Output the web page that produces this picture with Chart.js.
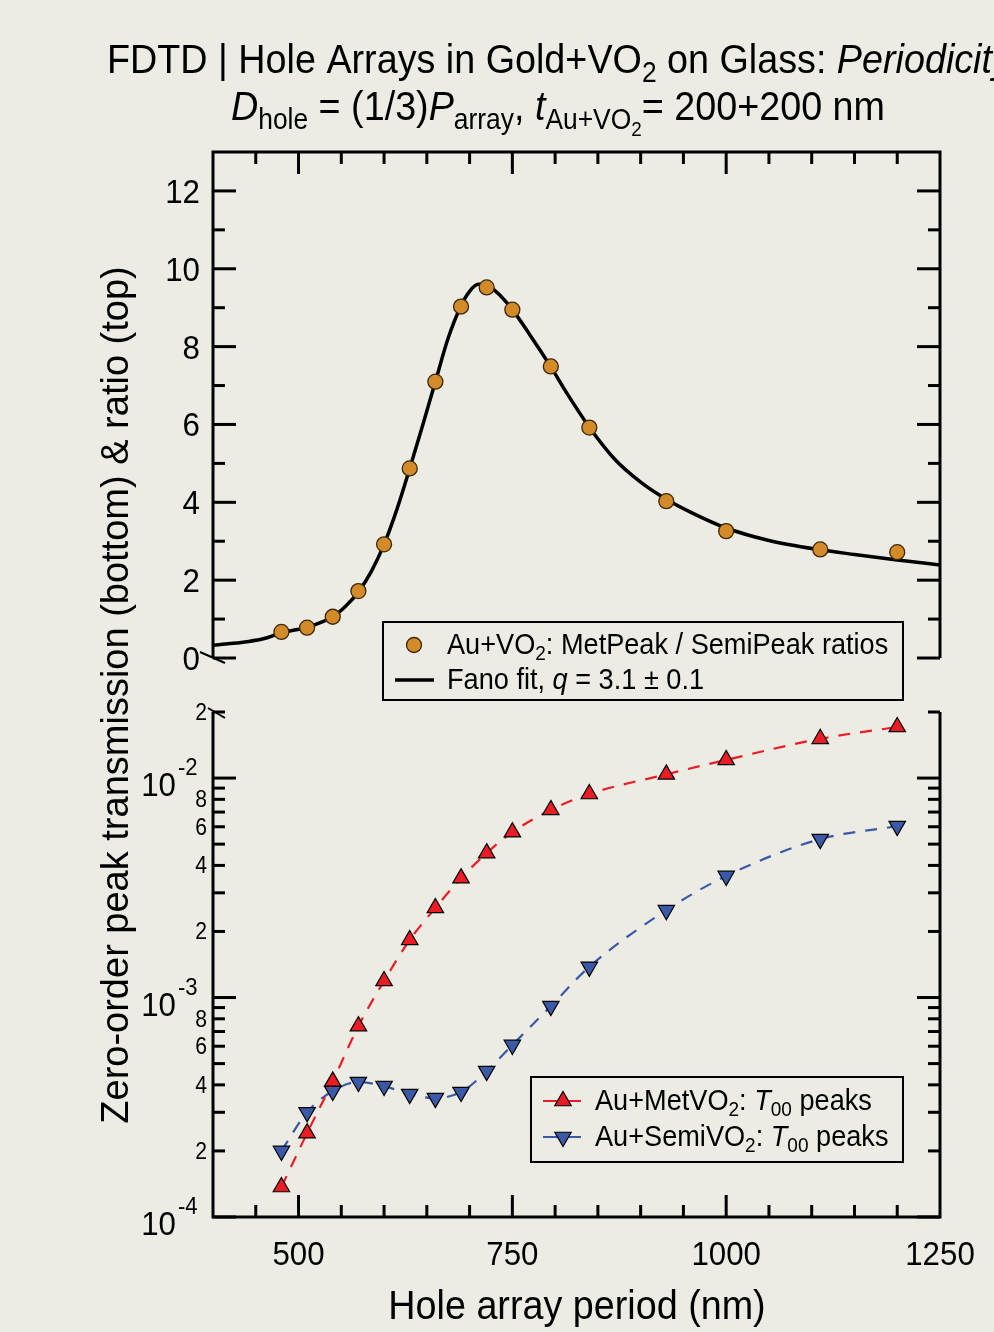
<!DOCTYPE html>
<html>
<head>
<meta charset="utf-8">
<title>FDTD hole arrays: periodicity</title>
<script src="https://cdn.jsdelivr.net/npm/chart.js@4.4.1/dist/chart.umd.min.js"></script>
<style>
  html, body { margin: 0; padding: 0; background: #ECECE4; }
  #wrap { width: 994px; height: 1332px; }
</style>
</head>
<body>
<div id="wrap"><canvas id="myChart" width="994" height="1332"></canvas></div>
<script>
// hole array periods (nm)
var periods = [480, 510, 540, 570, 600, 630, 660, 690, 720, 750, 795, 840, 930, 1000, 1110, 1200];
// top panel: MetPeak / SemiPeak ratios
var ratios = [0.67, 0.78, 1.06, 1.72, 2.92, 4.87, 7.10, 9.03, 9.52, 8.95, 7.49, 5.92, 4.03, 3.26, 2.79, 2.72];
// Fano fit curve
var fitPeriods = [400, 420, 440, 460, 480, 510, 540, 555, 570, 585, 600, 615, 630, 645, 660, 675, 690, 700, 710, 718, 725, 735, 750, 770, 795, 815, 840, 870, 900, 930, 960, 1000, 1050, 1110, 1150, 1200, 1250];
var fitRatios = [0.33, 0.37, 0.42, 0.50, 0.65, 0.79, 1.06, 1.33, 1.70, 2.22, 2.92, 3.82, 4.87, 5.97, 7.10, 8.22, 9.05, 9.42, 9.60, 9.60, 9.52, 9.33, 8.95, 8.32, 7.48, 6.76, 5.93, 5.10, 4.52, 4.08, 3.73, 3.34, 3.02, 2.78, 2.66, 2.52, 2.39];
// bottom panel: zero-order peak transmission
var metPeaks = [1.37e-4, 2.41e-4, 4.15e-4, 7.41e-4, 1.19e-3, 1.83e-3, 2.56e-3, 3.50e-3, 4.55e-3, 5.67e-3, 7.16e-3, 8.46e-3, 1.04e-2, 1.21e-2, 1.51e-2, 1.71e-2];
var semiPeaks = [2.0e-4, 3.0e-4, 3.75e-4, 4.12e-4, 3.95e-4, 3.63e-4, 3.48e-4, 3.71e-4, 4.62e-4, 6.08e-4, 9.14e-4, 1.38e-3, 2.50e-3, 3.58e-3, 5.27e-3, 6.04e-3];
// tick labels
var periodTicks = [500, 750, 1000, 1250];
var ratioTicks = [0, 2, 4, 6, 8, 10, 12];
var decadeTicks = [1e-4, 1e-3, 1e-2];
var minorLabels = [2, 4, 6, 8];

var BG = '#ECECE4';
var ORANGE = '#D38B2A';
var RED = '#EC1C24';
var BLUE = '#3A5AA8';
var FONT = '"Liberation Sans", Arial, sans-serif';
var SX = 0.92; // text in the figure is slightly condensed

function pts(xs, ys) {
    return xs.map(function (x, i) { return { x: x, y: ys[i] }; });
}

function seg(ctx, x1, y1, x2, y2) {
    ctx.beginPath();
    ctx.moveTo(x1, y1);
    ctx.lineTo(x2, y2);
    ctx.stroke();
}

// parts: {t, i (italic), s: 1 sub, 2 sub-sub, -1 sup}
function partFont(p, size) {
    var f = p.s === 1 ? 0.7 : p.s === 2 ? 0.5 : p.s === -1 ? 0.68 : 1;
    return (p.i ? 'italic ' : '') + Math.round(size * f * 10) / 10 + 'px ' + FONT;
}
function partDy(p, size) {
    return p.s === 1 ? 0.22 * size : p.s === 2 ? 0.38 * size : p.s === -1 ? -0.42 * size : 0;
}
function rich(ctx, parts, x, y, size, align, sx) {
    sx = sx || SX;
    var total = 0;
    parts.forEach(function (p) { ctx.font = partFont(p, size); total += ctx.measureText(p.t).width; });
    ctx.save();
    ctx.translate(x, y);
    ctx.scale(sx, 1);
    ctx.textAlign = 'left';
    ctx.textBaseline = 'alphabetic';
    ctx.fillStyle = '#000';
    var cx = align === 'center' ? -total / 2 : align === 'right' ? -total : 0;
    parts.forEach(function (p) {
        ctx.font = partFont(p, size);
        ctx.fillText(p.t, cx, partDy(p, size));
        cx += ctx.measureText(p.t).width;
    });
    ctx.restore();
}

function tri(ctx, x, y, r, down, fill) {
    var a = down ? Math.PI : 0;
    ctx.beginPath();
    for (var k = 0; k < 3; k++) {
        var px = x + Math.sin(a) * r, py = y - Math.cos(a) * r;
        if (k === 0) ctx.moveTo(px, py); else ctx.lineTo(px, py);
        a += 2 * Math.PI / 3;
    }
    ctx.closePath();
    ctx.fillStyle = fill;
    ctx.fill();
    ctx.lineWidth = 1.2;
    ctx.strokeStyle = '#000';
    ctx.stroke();
}

var frame = {
    id: 'frame',
    beforeDraw: function (chart) {
        var c = chart.ctx;
        c.save();
        c.fillStyle = BG;
        c.fillRect(0, 0, chart.width, chart.height);
        c.restore();
    },
    beforeDatasetsDraw: function (chart) {
        var c = chart.ctx;
        var xs = chart.scales.x, yt = chart.scales.yTop, yb = chart.scales.yBot;
        var L = chart.chartArea.left, R = chart.chartArea.right;
        var tT = yt.getPixelForValue(13), tB = yt.getPixelForValue(0);
        var bT = yb.getPixelForValue(2e-2), bB = yb.getPixelForValue(1e-4);
        c.save();
        c.strokeStyle = '#000';
        c.lineWidth = 3;
        c.lineJoin = 'miter';

        // panel frames (open at the break)
        c.beginPath();
        c.moveTo(L, tB); c.lineTo(L, tT); c.lineTo(R, tT); c.lineTo(R, tB);
        c.stroke();
        c.beginPath();
        c.moveTo(L, bT); c.lineTo(L, bB); c.lineTo(R, bB); c.lineTo(R, bT);
        c.stroke();

        // x ticks, inward
        for (var v = 450; v < 1250; v += 50) {
            var px = xs.getPixelForValue(v);
            var len = v % 250 === 0 ? 22 : 12;
            seg(c, px, tT, px, tT + len);
            seg(c, px, bB, px, bB - len);
        }
        // top y ticks
        for (var k = 0; k <= 12; k++) {
            var py = yt.getPixelForValue(k);
            var l2 = k % 2 === 0 ? 23 : 12;
            seg(c, L, py, L + l2, py);
            seg(c, R, py, R - l2, py);
        }
        // bottom log ticks
        decadeTicks.forEach(function (d) {
            for (var m = 1; m <= 9; m++) {
                var val = m * d;
                if (val > 2.0001e-2) break;
                var y = yb.getPixelForValue(val);
                var l3 = m === 1 ? 23 : 12;
                seg(c, L, y, L + l3, y);
                seg(c, R, y, R - l3, y);
            }
        });

        // break marks
        c.lineWidth = 2;
        seg(c, L - 13, tB - 6, L + 12, tB + 5);
        seg(c, L - 5, bT - 4, L + 12, bT + 6);

        // tick labels
        ratioTicks.forEach(function (t) {
            rich(c, [{ t: String(t) }], 200, yt.getPixelForValue(t) + 12, 34, 'right');
        });
        periodTicks.forEach(function (t) {
            rich(c, [{ t: String(t) }], xs.getPixelForValue(t), 1265, 34, 'center');
        });
        decadeTicks.forEach(function (d) {
            var y = yb.getPixelForValue(d);
            var e = Math.round(Math.log10(d));
            rich(c, [{ t: '10' }], 176, y + 18, 34, 'right');
            rich(c, [{ t: String(e) }], 178, y - 3, 24, 'left');
            if (d < 1e-2) {
                minorLabels.forEach(function (m) {
                    rich(c, [{ t: String(m) }], 207, yb.getPixelForValue(m * d) + 8, 23, 'right');
                });
            }
        });
        rich(c, [{ t: '2' }], 207, bT + 8, 23, 'right');

        // axis titles
        rich(c, [{ t: 'Hole array period (nm)' }], 577, 1319, 41, 'center');
        c.save();
        c.translate(128, 695);
        c.rotate(-Math.PI / 2);
        c.font = '38px ' + FONT;
        c.fillStyle = '#000';
        c.textAlign = 'center';
        c.textBaseline = 'alphabetic';
        c.fillText('Zero-order peak transmission (bottom) & ratio (top)', 0, 0);
        c.restore();

        // chart title
        rich(c, [
            { t: 'FDTD | Hole Arrays in Gold+VO' }, { t: '2', s: 1 },
            { t: ' on Glass: ' }, { t: 'Periodicity', i: true }
        ], 107, 73, 41, 'left');
        rich(c, [
            { t: 'D', i: true }, { t: 'hole', s: 1 }, { t: ' = (1/3)' },
            { t: 'P', i: true }, { t: 'array', s: 1 }, { t: ', ' },
            { t: 't', i: true }, { t: 'Au+VO', s: 1 }, { t: '2', s: 2 },
            { t: '= 200+200 nm' }
        ], 558, 120, 41, 'center');
        c.restore();
    },
    afterDatasetsDraw: function (chart) {
        var c = chart.ctx;
        c.save();
        // top legend
        c.fillStyle = BG;
        c.fillRect(383, 622, 520, 78);
        c.lineWidth = 2;
        c.strokeStyle = '#000';
        c.strokeRect(383, 622, 520, 78);
        c.beginPath();
        c.arc(414, 645, 7.5, 0, Math.PI * 2);
        c.fillStyle = ORANGE;
        c.fill();
        c.lineWidth = 1.3;
        c.strokeStyle = '#3B2706';
        c.stroke();
        c.lineWidth = 3.5;
        c.strokeStyle = '#000';
        seg(c, 395, 680, 434, 680);
        rich(c, [{ t: 'Au+VO' }, { t: '2', s: 1 }, { t: ': MetPeak / SemiPeak ratios' }], 447, 654, 29.5, 'left');
        rich(c, [{ t: 'Fano fit, ' }, { t: 'q', i: true }, { t: ' = 3.1 \u00B1 0.1' }], 447, 689, 29.5, 'left');

        // bottom legend
        c.fillStyle = BG;
        c.fillRect(531, 1077, 372, 85);
        c.lineWidth = 2;
        c.strokeStyle = '#000';
        c.strokeRect(531, 1077, 372, 85);
        [[RED, 1101, false, 'Au+MetVO', 1110], [BLUE, 1137, true, 'Au+SemiVO', 1146]].forEach(function (r) {
            c.save();
            c.strokeStyle = r[0];
            c.lineWidth = 2.2;
            c.setLineDash([14, 10]);
            seg(c, 543, r[1], 584, r[1]);
            c.restore();
            tri(c, 563, r[1], 9.5, r[2], r[0]);
            rich(c, [{ t: r[3] }, { t: '2', s: 1 }, { t: ': ' }, { t: 'T', i: true }, { t: '00', s: 1 }, { t: ' peaks' }], 595, r[4], 29.5, 'left');
        });
        c.restore();
    }
};

var ctx = document.getElementById('myChart').getContext('2d');
var myChart = new Chart(ctx, {
    type: 'scatter',
    data: {
        datasets: [{
            label: 'Au+VO2: MetPeak / SemiPeak ratios',
            data: pts(periods, ratios),
            yAxisID: 'yTop',
            pointStyle: 'circle',
            pointRadius: 7.5,
            backgroundColor: ORANGE,
            borderColor: '#3B2706',
            borderWidth: 1.3
        }, {
            label: 'Fano fit',
            type: 'line',
            data: pts(fitPeriods, fitRatios),
            yAxisID: 'yTop',
            borderColor: '#000',
            borderWidth: 3.5,
            pointRadius: 0,
            cubicInterpolationMode: 'monotone',
            fill: false
        }, {
            label: 'Au+MetVO2: T00 peaks',
            type: 'line',
            data: pts(periods, metPeaks),
            yAxisID: 'yBot',
            borderColor: RED,
            borderWidth: 2.2,
            borderDash: [12, 10],
            cubicInterpolationMode: 'monotone',
            pointStyle: 'triangle',
            pointRadius: 9.5,
            pointBackgroundColor: RED,
            pointBorderColor: '#000',
            pointBorderWidth: 1.2,
            fill: false
        }, {
            label: 'Au+SemiVO2: T00 peaks',
            type: 'line',
            data: pts(periods, semiPeaks),
            yAxisID: 'yBot',
            borderColor: BLUE,
            borderWidth: 2.2,
            borderDash: [12, 10],
            cubicInterpolationMode: 'monotone',
            pointStyle: 'triangle',
            pointRotation: 180,
            pointRadius: 9.5,
            pointBackgroundColor: BLUE,
            pointBorderColor: '#000',
            pointBorderWidth: 1.2,
            fill: false
        }]
    },
    options: {
        responsive: false,
        animation: false,
        events: [],
        layout: { padding: { top: 152, left: 213, right: 54, bottom: 115 } },
        scales: {
            x: { type: 'linear', min: 400, max: 1250, display: false },
            // stacked panels: Chart.js places the later left box on top
            yBot: { type: 'logarithmic', min: 1e-4, max: 2e-2, stack: 'panels', stackWeight: 505, display: false },
            // top panel runs a little below 0 to leave the gap between panels
            yTop: { type: 'linear', min: -1.387, max: 13, stack: 'panels', stackWeight: 560, display: false }
        },
        plugins: {
            legend: { display: false },
            tooltip: { enabled: false }
        }
    },
    plugins: [frame]
});
</script>
</body>
</html>
